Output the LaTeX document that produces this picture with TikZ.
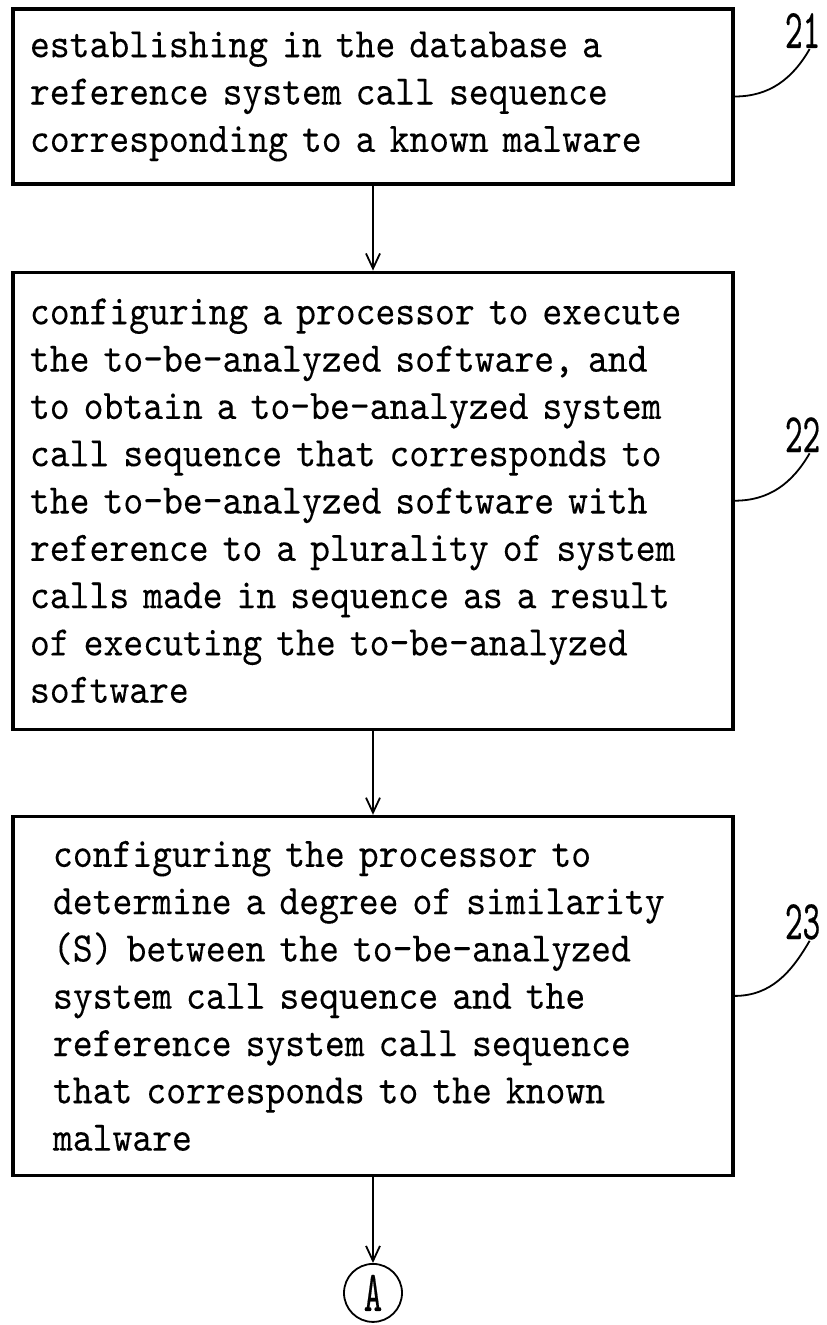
\documentclass[tikz,border=0pt]{standalone}
\usepackage{fontspec}
\setmonofont{lmmono10-regular.otf}[FakeStretch=0.9,FakeBold=0.15]
\newfontfamily\narrowtt{lmmono10-regular.otf}[FakeStretch=0.6,FakeBold=0.3]
\usetikzlibrary{positioning,arrows.meta}

\newcommand{\flowfont}{\ttfamily\fontsize{42}{47.3}\selectfont}
\newcommand{\numfont}{\narrowtt\fontsize{56}{56}\selectfont}

\tikzset{
  stepbox/.style={draw, line width=3.2pt, minimum width=720pt,
    text width=686pt, inner xsep=17pt, align=left, font=\flowfont},
  flow/.style={-{Straight Barb[length=15pt,width=14pt]}, line width=1.8pt},
  refnum/.style={font=\numfont, inner sep=1pt},
  leader/.style={line width=1.8pt},
}

\begin{document}
\begin{tikzpicture}[x=1pt,y=1pt]
\useasboundingbox (0,0) rectangle (827,-1325);

\node[stepbox, minimum height=175pt] (box1) at (373,-96.5)
  {establishing in the database a\\
   reference system call sequence\\
   corresponding to a known malware};
\node[stepbox, minimum height=457pt, below=85pt of box1] (box2)
  {configuring a processor to execute\\
   the to-be-analyzed software, and\\
   to obtain a to-be-analyzed system\\
   call sequence that corresponds to\\
   the to-be-analyzed software with\\
   reference to a plurality of system\\
   calls made in sequence as a result\\
   of executing the to-be-analyzed\\
   software};
\node[stepbox, minimum height=359pt, text width=640pt, inner xsep=40pt,
  below=84pt of box2] (box3)
  {configuring the processor to\\
   determine a degree of similarity\\
   (S) between the to-be-analyzed\\
   system call sequence and the\\
   reference system call sequence\\
   that corresponds to the known\\
   malware};
\node[circle, draw, line width=1.8pt, minimum size=58pt, inner sep=0pt,
  font={\narrowtt\fontsize{58}{58}\selectfont}, below=86pt of box3] (conA) {A};

% flow arrows
\draw[flow] (box1) -- (box2);
\draw[flow] (box2) -- (box3);
\draw[flow] (box3) -- (conA);

% reference numerals
\node[refnum] (n21) at ([shift={(68,66)}]box1.east) {21};
\node[refnum] (n22) at ([shift={(68,66)}]box2.east) {22};
\node[refnum] (n23) at ([shift={(68,74)}]box3.east) {23};
\draw[leader] (box1.east) to[out=0,in=240] ([xshift=7pt]n21.south);
\draw[leader] (box2.east) to[out=0,in=240] ([xshift=7pt]n22.south);
\draw[leader] (box3.east) to[out=0,in=240] ([xshift=7pt]n23.south);

\end{tikzpicture}
\end{document}
